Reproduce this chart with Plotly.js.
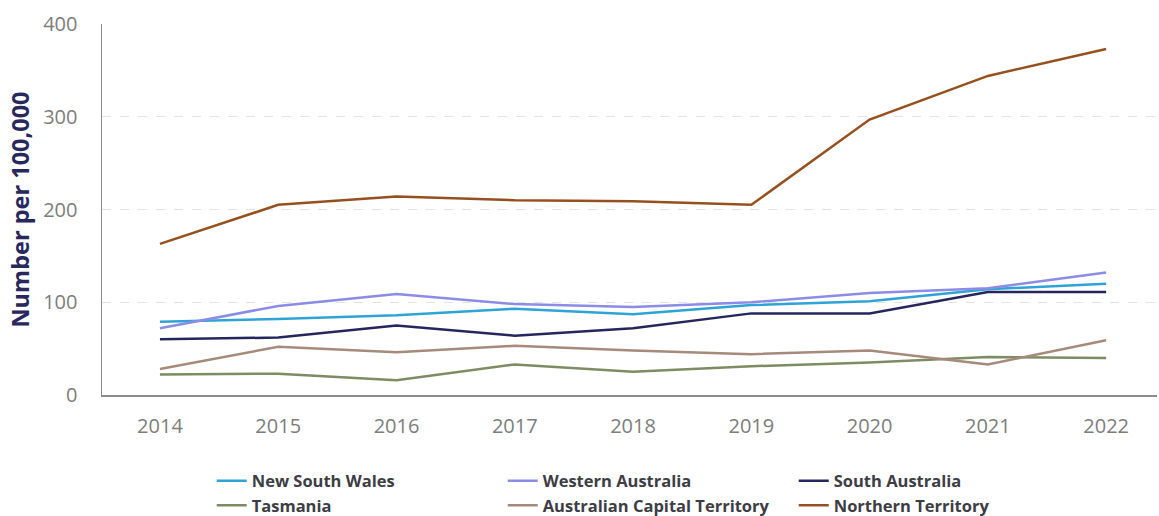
<!DOCTYPE html>
<html>
<head>
<meta charset="utf-8">
<script src="https://cdn.plot.ly/plotly-3.0.1.min.js"></script>
<style>html,body{margin:0;padding:0;background:#fff;}#chart{width:1159px;height:516px;}</style>
</head>
<body>
<div id="chart"></div>
<script>
const years = [2014, 2015, 2016, 2017, 2018, 2019, 2020, 2021, 2022];
const newSouthWales = [79, 82, 86, 93, 87, 97, 101, 114, 120];
const westernAustralia = [72, 96, 109, 98, 95, 100, 110, 115, 132];
const southAustralia = [60, 62, 75, 64, 72, 88, 88, 111, 111];
const tasmania = [22, 23, 16, 33, 25, 31, 35, 41, 40];
const actTerritory = [28, 52, 46, 53, 48, 44, 48, 33, 59];
const northernTerritory = [163, 205, 214, 210, 209, 205, 297, 344, 373];
const seriesNames = ["New South Wales", "Western Australia", "South Australia", "Tasmania", "Australian Capital Territory", "Northern Territory"];
const seriesValues = [newSouthWales, westernAustralia, southAustralia, tasmania, actTerritory, northernTerritory];
const seriesColors = ["#2ea4d6", "#8c8ce6", "#26265e", "#7d8c62", "#a68a7b", "#96501f"];
const yTicks = [0, 100, 200, 300, 400];

const traces = seriesNames.map((name, i) => ({
  type: "scatter",
  mode: "lines",
  name: name,
  x: years,
  y: seriesValues[i],
  line: {color: seriesColors[i], width: 2.5},
  hoverinfo: "x+y+name"
}));

const layout = {
  width: 1159,
  height: 516,
  margin: {l: 102, r: 2, t: 24, b: 121, autoexpand: false},
  paper_bgcolor: "#ffffff",
  plot_bgcolor: "#ffffff",
  font: {family: "Open Sans, sans-serif", color: "#7d7d7d"},
  showlegend: true,
  xaxis: {
    range: [2013.51, 2022.43],
    tickmode: "array",
    tickvals: years,
    ticktext: years.map(String),
    showgrid: false,
    zeroline: false,
    showline: true,
    linecolor: "#8c8c8c",
    linewidth: 1.5,
    ticks: "",
    ticklabelstandoff: 12,
    tickfont: {family: "Open Sans, sans-serif", size: 20, color: "#7d7d7d"}
  },
  yaxis: {
    range: [0, 400],
    tickmode: "array",
    tickvals: yTicks,
    ticktext: yTicks.map(String),
    showgrid: true,
    gridcolor: "#e3e3e3",
    griddash: "dash",
    gridwidth: 1,
    zeroline: false,
    showline: true,
    linecolor: "#8c8c8c",
    linewidth: 1.5,
    ticks: "",
    ticklabelstandoff: 19,
    tickfont: {family: "Open Sans, sans-serif", size: 20, color: "#7d7d7d"},
    title: {
      text: "Number per 100,000",
      font: {family: "Open Sans, sans-serif", size: 23.5, color: "#28285c", weight: "bold"},
      standoff: 7
    }
  },
  legend: {
    orientation: "h",
    x: 0.104,
    xanchor: "left",
    y: -0.185,
    yanchor: "top",
    entrywidth: 246,
    entrywidthmode: "pixels",
    itemwidth: 30,
    font: {family: "Open Sans, sans-serif", size: 16.5, color: "#3d3d45", weight: "bold"},
    bgcolor: "rgba(0,0,0,0)",
    traceorder: "normal"
  }
};

Plotly.newPlot("chart", traces, layout, {displayModeBar: false, staticPlot: true});
</script>
</body>
</html>
